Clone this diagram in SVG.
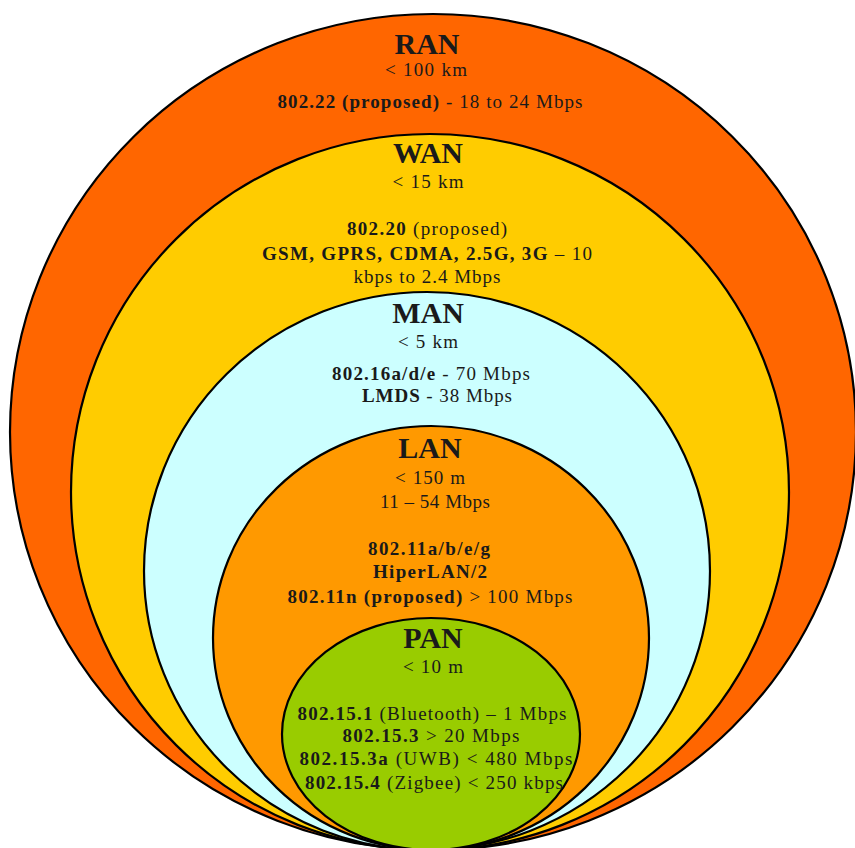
<svg xmlns="http://www.w3.org/2000/svg" width="855" height="848" viewBox="0 0 855 848">
<style>
.ring{stroke:#000;stroke-width:2.2}
text{font-family:"Liberation Serif","Times New Roman",serif;fill:#1a1a1a;text-anchor:middle}
.t{font-size:30px;font-weight:bold}
.s{font-size:19px}
.b{font-weight:bold}
</style>
<rect width="855" height="848" fill="#fff"/>
<g id="ran">
<ellipse class="ring" cx="433" cy="432" rx="423" ry="418" fill="#FF6600"/>
<text class="t" x="427" y="54">RAN</text>
<text class="s" x="426" y="76" textLength="82" lengthAdjust="spacing">&lt; 100 km</text>
<text class="s" x="430" y="108" textLength="305" lengthAdjust="spacing"><tspan class="b">802.22 (proposed)</tspan> - 18 to 24 Mbps</text>
</g>
<g id="wan">
<ellipse class="ring" cx="430" cy="492" rx="359" ry="358" fill="#FFCC00"/>
<text class="t" x="428" y="163">WAN</text>
<text class="s" x="428" y="188" textLength="71" lengthAdjust="spacing">&lt; 15 km</text>
<text class="s" x="427" y="235" textLength="160" lengthAdjust="spacing"><tspan class="b">802.20</tspan> (proposed)</text>
<text class="s" x="427" y="260" textLength="330" lengthAdjust="spacing"><tspan class="b">GSM, GPRS, CDMA, 2.5G, 3G</tspan> – 10</text>
<text class="s" x="427" y="283" textLength="147" lengthAdjust="spacing">kbps to 2.4 Mbps</text>
</g>
<g id="man">
<ellipse class="ring" cx="427" cy="571" rx="283" ry="279" fill="#CCFFFF"/>
<text class="t" x="428" y="323">MAN</text>
<text class="s" x="428" y="348" textLength="60" lengthAdjust="spacing">&lt; 5 km</text>
<text class="s" x="431" y="380" textLength="198" lengthAdjust="spacing"><tspan class="b">802.16a/d/e</tspan> - 70 Mbps</text>
<text class="s" x="437" y="402" textLength="150" lengthAdjust="spacing"><tspan class="b">LMDS</tspan> - 38 Mbps</text>
</g>
<g id="lan">
<ellipse class="ring" cx="431" cy="638" rx="218" ry="212" fill="#FF9900"/>
<text class="t" x="430" y="458">LAN</text>
<text class="s" x="430" y="484" textLength="70" lengthAdjust="spacing">&lt; 150 m</text>
<text class="s" x="435" y="508" textLength="110" lengthAdjust="spacing">11 – 54 Mbps</text>
<text class="s b" x="429" y="555" textLength="122" lengthAdjust="spacing">802.11a/b/e/g</text>
<text class="s b" x="430" y="578" textLength="114" lengthAdjust="spacing">HiperLAN/2</text>
<text class="s" x="430" y="603" textLength="285" lengthAdjust="spacing"><tspan class="b">802.11n (proposed)</tspan> &gt; 100 Mbps</text>
</g>
<g id="pan">
<ellipse class="ring" cx="431" cy="734" rx="149" ry="116" fill="#99CC00"/>
<text class="t" x="433" y="648">PAN</text>
<text class="s" x="433" y="673" textLength="60" lengthAdjust="spacing">&lt; 10 m</text>
<text class="s" x="432" y="720" textLength="269" lengthAdjust="spacing"><tspan class="b">802.15.1</tspan> (Bluetooth) – 1 Mbps</text>
<text class="s" x="431" y="742" textLength="177" lengthAdjust="spacing"><tspan class="b">802.15.3</tspan> &gt; 20 Mbps</text>
<text class="s" x="436" y="765" textLength="273" lengthAdjust="spacing"><tspan class="b">802.15.3a</tspan>  (UWB) &lt; 480 Mbps</text>
<text class="s" x="434" y="789" textLength="258" lengthAdjust="spacing"><tspan class="b">802.15.4</tspan> (Zigbee) &lt; 250 kbps</text>
</g>
<g id="connectors"/>
</svg>
